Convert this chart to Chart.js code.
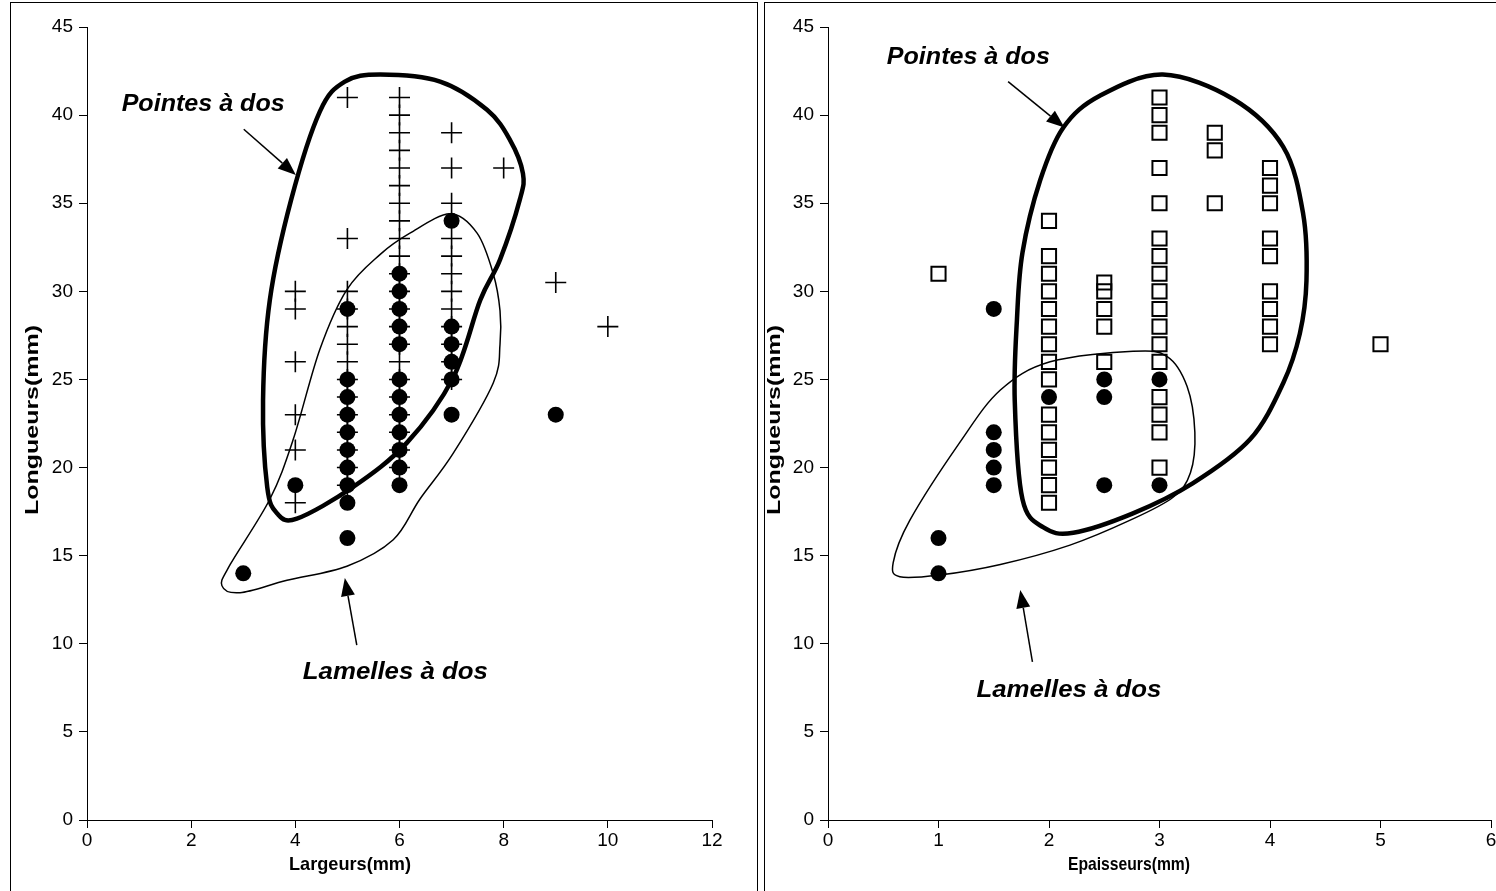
<!DOCTYPE html>
<html>
<head>
<meta charset="utf-8">
<script src="https://cdn.jsdelivr.net/npm/chart.js@4.4.1/dist/chart.umd.min.js"></script>
<style>
  html, body { margin: 0; padding: 0; background: #fff; overflow: hidden; width: 1496px; height: 891px; }
  .panel { position: absolute; border: 1px solid #000; background: #fff; overflow: hidden; }
  #p1 { left: 10px; top: 2px; width: 746px; height: 900px; }
  #p2 { left: 764px; top: 2px; width: 790px; height: 900px; }
  canvas { position: absolute; left: 0; top: 0; }
</style>
</head>
<body>
<div class="panel" id="p1"><canvas id="chartLarg" width="745" height="888"></canvas></div>
<div class="panel" id="p2"><canvas id="chartEp" width="780" height="888"></canvas></div>

<script>
// ---- Données : largeurs (graphique de gauche) ----
const largCols = [4, 5, 6, 7, 8, 9, 10];
const largPointes = [
  [30, 29, 26, 23, 21, 18],
  [41, 33, 30, 29, 28, 27, 26, 25, 24, 23, 22, 21, 20, 19],
  [41, 40, 39, 38, 37, 36, 35, 34, 33, 32, 31, 30, 29, 28, 27, 26, 25, 24, 23, 22, 21, 20],
  [39, 37, 35, 33, 32, 31, 30, 29, 28, 27, 26, 25],
  [37],
  [30.5],
  [28]
];
const largLamCols = [3, 4, 5, 6, 7, 9];
const largLamelles = [
  [14],
  [19],
  [29, 25, 24, 23, 22, 21, 20, 19, 18, 16],
  [31, 30, 29, 28, 27, 25, 24, 23, 22, 21, 20, 19],
  [34, 28, 27, 26, 25, 23],
  [23]
];

// ---- Données : épaisseurs (graphique de droite) ----
const epCols = [1, 2, 2.5, 3, 3.5, 4, 5];
const epPointes = [
  [31],
  [34, 32, 31, 30, 29, 28, 27, 26, 25, 23, 22, 21, 20, 19, 18],
  [30.5, 30, 29, 28, 26],
  [41, 40, 39, 37, 35, 33, 32, 31, 30, 29, 28, 27, 26, 24, 23, 22, 20],
  [39, 38, 35],
  [37, 36, 35, 33, 32, 30, 29, 28, 27],
  [27]
];
const epLamCols = [1, 1.5, 2, 2.5, 3];
const epLamelles = [
  [16, 14],
  [29, 22, 21, 20, 19],
  [24],
  [25, 24, 19],
  [25, 19]
];

// ---- Contours dessinés à la main (en unités des axes) ----
const largContourPointesX = [5.63, 6.78, 7.68, 8.12, 8.37, 8.31, 7.93, 7.55, 7.03, 6.14, 5.11, 4.03, 3.65, 3.46, 3.38, 3.51, 3.92, 4.47, 4.95];
const largContourPointesY = [42.3, 41.9, 40.3, 38.6, 36.7, 35.2, 31.8, 29.5, 25.1, 21.4, 18.9, 17.1, 17.4, 18.9, 23.8, 29.5, 35.2, 40.2, 41.9];
const largContourLamX = [6.97, 7.49, 7.8, 7.93, 7.93, 7.8, 7.03, 6.39, 5.88, 4.99, 3.84, 2.94, 2.59, 2.75, 3.51, 3.96, 4.47, 4.99, 5.63, 6.2];
const largContourLamY = [34.4, 33.3, 31.0, 28.9, 27.0, 24.8, 20.8, 18.2, 15.9, 14.4, 13.6, 12.9, 13.3, 14.5, 18.2, 21.6, 26.7, 30.1, 32.1, 33.3];

const epContourPointesX = [3.03, 3.67, 4.12, 4.30, 4.33, 4.27, 4.12, 3.82, 3.30, 2.76, 2.22, 1.95, 1.76, 1.69, 1.71, 1.76, 1.92, 2.13, 2.46];
const epContourPointesY = [42.3, 40.9, 38.2, 34.4, 30.6, 27.6, 24.8, 21.6, 19.1, 17.4, 16.3, 16.6, 18.2, 23.8, 28.4, 32.2, 36.3, 39.3, 41.1];
const epContourLamX = [2.76, 3.07, 3.25, 3.32, 3.28, 3.12, 2.73, 2.19, 1.56, 1.01, 0.65, 0.59, 0.74, 1.19, 1.56, 2.01];
const epContourLamY = [26.6, 26.3, 24.6, 22.0, 19.7, 18.3, 17.0, 15.6, 14.5, 13.9, 13.8, 14.6, 17.0, 21.4, 24.4, 26.0];

// colonnes -> points {x, y}
const toPoints = (cols, lists) => cols.flatMap((x, i) => lists[i].map(y => ({ x, y })));

// texte étiré à une largeur donnée (rendu type Excel)
const drawStretched = (ctx, text, cx, cy, width, font, angle) => {
  ctx.save();
  ctx.font = font;
  ctx.fillStyle = '#000';
  ctx.textAlign = 'center';
  ctx.textBaseline = 'middle';
  const natural = ctx.measureText(text).width;
  ctx.translate(cx, cy);
  if (angle) ctx.rotate(angle);
  ctx.scale(width / natural, 1);
  ctx.fillText(text, 0, 0);
  ctx.restore();
};

// Plugin : contours fermés (spline) + annotations + titres d'axes
const decorPlugin = {
  id: 'decor',
  afterDatasetsDraw(chart, args, opts) {
    const { ctx, scales: { x, y }, chartArea } = chart;

    // contours
    (opts.contours || []).forEach(c => {
      const pts = c.xs.map((v, i) => [x.getPixelForValue(v), y.getPixelForValue(c.ys[i])]);
      const n = pts.length;
      ctx.save();
      ctx.beginPath();
      ctx.moveTo(pts[0][0], pts[0][1]);
      for (let i = 0; i < n; i++) {
        const p0 = pts[(i - 1 + n) % n], p1 = pts[i], p2 = pts[(i + 1) % n], p3 = pts[(i + 2) % n];
        const c1x = p1[0] + (p2[0] - p0[0]) / 6, c1y = p1[1] + (p2[1] - p0[1]) / 6;
        const c2x = p2[0] - (p3[0] - p1[0]) / 6, c2y = p2[1] - (p3[1] - p1[1]) / 6;
        ctx.bezierCurveTo(c1x, c1y, c2x, c2y, p2[0], p2[1]);
      }
      ctx.closePath();
      ctx.lineWidth = c.width;
      ctx.strokeStyle = '#000';
      ctx.lineJoin = 'round';
      ctx.stroke();
      ctx.restore();
    });

    // flèches
    (opts.fleches || []).forEach(f => {
      const x0 = x.getPixelForValue(f.from[0]), y0 = y.getPixelForValue(f.from[1]);
      const x1 = x.getPixelForValue(f.to[0]), y1 = y.getPixelForValue(f.to[1]);
      const a = Math.atan2(y1 - y0, x1 - x0);
      const len = 18, half = 7;
      const bx = x1 - Math.cos(a) * len, by = y1 - Math.sin(a) * len;
      ctx.save();
      ctx.strokeStyle = '#000';
      ctx.lineWidth = 1.5;
      ctx.beginPath();
      ctx.moveTo(x0, y0);
      ctx.lineTo(bx, by);
      ctx.stroke();
      ctx.fillStyle = '#000';
      ctx.beginPath();
      ctx.moveTo(x1, y1);
      ctx.lineTo(bx - Math.sin(a) * half, by + Math.cos(a) * half);
      ctx.lineTo(bx + Math.sin(a) * half, by - Math.cos(a) * half);
      ctx.closePath();
      ctx.fill();
      ctx.restore();
    });

    // étiquettes
    (opts.etiquettes || []).forEach(e => {
      drawStretched(ctx, e.text, x.getPixelForValue(e.at[0]), y.getPixelForValue(e.at[1]),
        e.width, 'italic bold 24px "Liberation Sans", Arial, sans-serif');
    });

    // titres d'axes
    const t = opts.titres;
    if (t) {
      drawStretched(ctx, t.x, chartArea.left + t.xPos, chartArea.bottom + 45, t.xWidth,
        'bold 19px "Liberation Sans", Arial, sans-serif');
      drawStretched(ctx, 'Longueurs(mm)', chartArea.left - t.yOffset, chartArea.top + 393, 190,
        'bold 18px "Liberation Sans", Arial, sans-serif', -Math.PI / 2);
    }
  }
};

const axisFont = { family: '"Liberation Sans", Arial, sans-serif', size: 19 };

const makeScales = (xMax, xStep, yAxisWidth) => ({
  x: {
    type: 'linear', min: 0, max: xMax,
    ticks: { stepSize: xStep, color: '#000', font: axisFont, padding: 1, maxRotation: 0 },
    grid: { drawOnChartArea: false, color: '#000', tickLength: 8, lineWidth: 1 },
    border: { display: true, color: '#000', width: 1 },
    afterFit: s => { s.height = 71; }
  },
  y: {
    type: 'linear', min: 0, max: 45,
    ticks: { stepSize: 5, color: '#000', font: axisFont, padding: 6 },
    grid: { drawOnChartArea: false, color: '#000', tickLength: 8, lineWidth: 1 },
    border: { display: true, color: '#000', width: 1 },
    afterFit: s => { s.width = yAxisWidth; }
  }
});

const crossStyle = {
  pointStyle: 'cross', pointRadius: 10.5, pointHoverRadius: 10.5,
  borderColor: '#000', borderWidth: 1.6, backgroundColor: '#000'
};
const dotStyle = {
  pointStyle: 'circle', pointRadius: 8, pointHoverRadius: 8,
  borderWidth: 0, backgroundColor: '#000', borderColor: '#000'
};
const squareStyle = {
  pointStyle: 'rect', pointRadius: 10, pointHoverRadius: 10,
  borderColor: '#000', borderWidth: 2, backgroundColor: 'rgba(0,0,0,0)'
};

const baseOptions = {
  responsive: false,
  animation: false,
  events: [],
  plugins: { legend: { display: false }, tooltip: { enabled: false } }
};

// 1. Longueur / largeur
new Chart(document.getElementById('chartLarg'), {
  type: 'scatter',
  data: {
    datasets: [
      { label: 'Pointes à dos', data: toPoints(largCols, largPointes), ...crossStyle },
      { label: 'Lamelles à dos', data: toPoints(largLamCols, largLamelles), ...dotStyle }
    ]
  },
  options: {
    ...baseOptions,
    layout: { padding: { top: 24, right: 44, left: 0, bottom: 0 } },
    scales: makeScales(12, 2, 76),
    plugins: {
      ...baseOptions.plugins,
      decor: {
        contours: [
          { xs: largContourPointesX, ys: largContourPointesY, width: 4.5 },
          { xs: largContourLamX, ys: largContourLamY, width: 1.5 }
        ],
        fleches: [
          { from: [3.01, 39.2], to: [4.01, 36.6] },
          { from: [5.18, 9.93], to: [4.95, 13.73] }
        ],
        etiquettes: [
          { text: 'Pointes à dos', at: [2.23, 40.6], width: 163 },
          { text: 'Lamelles à dos', at: [5.92, 8.4], width: 185 }
        ],
        titres: { x: 'Largeurs(mm)', xPos: 263, xWidth: 122, yOffset: 54 }
      }
    }
  },
  plugins: [decorPlugin]
});

// 2. Longueur / épaisseur
new Chart(document.getElementById('chartEp'), {
  type: 'scatter',
  data: {
    datasets: [
      { label: 'Pointes à dos', data: toPoints(epCols, epPointes), ...squareStyle },
      { label: 'Lamelles à dos', data: toPoints(epLamCols, epLamelles), ...dotStyle }
    ]
  },
  options: {
    ...baseOptions,
    layout: { padding: { top: 24, right: 54, left: 0, bottom: 0 } },
    scales: makeScales(6, 1, 63),
    plugins: {
      ...baseOptions.plugins,
      decor: {
        contours: [
          { xs: epContourPointesX, ys: epContourPointesY, width: 4.5 },
          { xs: epContourLamX, ys: epContourLamY, width: 1.5 }
        ],
        fleches: [
          { from: [1.63, 41.9], to: [2.14, 39.3] },
          { from: [1.85, 8.97], to: [1.74, 13.05] }
        ],
        etiquettes: [
          { text: 'Pointes à dos', at: [1.27, 43.3], width: 163 },
          { text: 'Lamelles à dos', at: [2.18, 7.38], width: 185 }
        ],
        titres: { x: 'Epaisseurs(mm)', xPos: 301, xWidth: 122, yOffset: 53 }
      }
    }
  },
  plugins: [decorPlugin]
});
</script>
</body>
</html>
